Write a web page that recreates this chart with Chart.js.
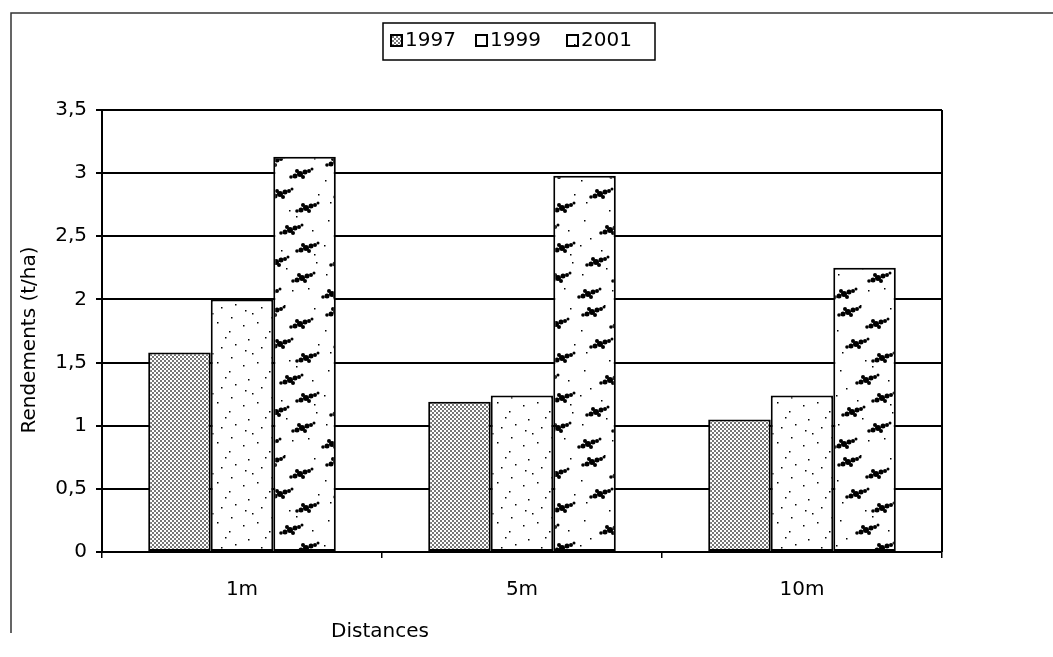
<!DOCTYPE html>
<html>
<head>
<meta charset="utf-8">
<script src="https://cdn.jsdelivr.net/npm/chart.js@4.4.0/dist/chart.umd.min.js"></script>
<style>
  html, body { margin: 0; padding: 0; background: #fff; }
  canvas { display: block; }
</style>
</head>
<body>
<canvas id="yieldChart" width="1053" height="657"></canvas>
<script>
const categories = ["1m", "5m", "10m"];
const years = ["1997", "1999", "2001"];
const values1997 = [1.58, 1.19, 1.05];
const values1999 = [2.0, 1.24, 1.24];
const values2001 = [3.13, 2.98, 2.25];
const yTicks = [0, 0.5, 1, 1.5, 2, 2.5, 3, 3.5];

const FONT = "'DejaVu Sans', 'Liberation Sans', Arial, sans-serif";

// motifs façon Excel scanné
function makePattern(w, h, draw) {
  const c = document.createElement("canvas");
  c.width = w; c.height = h;
  const g = c.getContext("2d");
  g.fillStyle = "#fff";
  g.fillRect(0, 0, w, h);
  g.fillStyle = "#000";
  draw(g);
  return c.getContext("2d").createPattern(c, "repeat");
}

const ctx = document.getElementById("yieldChart").getContext("2d");

const dotted = makePattern(4, 4, g => {
  g.fillStyle = "#777";
  g.fillRect(0, 0, 2, 2);
  g.fillRect(2, 2, 2, 2);
});
const sparse = makePattern(40, 40, g => {
  [[3,5],[17,2],[29,11],[8,19],[35,24],[21,27],[12,33],[31,37],[25,17],[5,30]]
    .forEach(p => g.fillRect(p[0], p[1], 1.5, 1.5));
});
const blobs = makePattern(64, 150, g => {
  // taches irrégulières : cercles qui se chevauchent
  const clusters = [[16,12],[44,24],[24,44],[50,58],[34,80],[50,98],[20,112],[46,128],[12,144]];
  const offs = [[0,0,3],[5,-2,2.5],[-5,2,2.5],[9,-3,2],[-9,3,1.8],[3,3,2],[-3,-3,2],[12,-5,1.5]];
  clusters.forEach(cl => offs.forEach(o => {
    g.beginPath();
    g.arc(cl[0] + o[0], cl[1] + o[1], o[2], 0, Math.PI * 2);
    g.fill();
  }));
  [[5,30],[58,8],[33,60],[8,70],[56,80],[25,100],[60,112],[36,140],[4,95],[52,138],
   [28,5],[10,52],[40,66],[14,88],[58,104],[30,118],[6,124],[62,44]]
    .forEach(p => g.fillRect(p[0], p[1], 1.5, 1.5));
});
const fills = [dotted, sparse, blobs];

// cadre, légende et titres des axes
const decorations = {
  id: "decorations",
  afterDraw(chart) {
    const c = chart.ctx;
    const a = chart.chartArea;
    c.save();
    c.strokeStyle = "#000";
    c.lineWidth = 2;
    c.beginPath();
    c.moveTo(a.right, a.top);
    c.lineTo(a.right, a.bottom);
    c.stroke();

    c.strokeStyle = "#333";
    c.lineWidth = 1.5;
    c.beginPath();
    c.moveTo(1053, 13);
    c.lineTo(11, 13);
    c.lineTo(11, 633);
    c.stroke();

    // légende
    c.lineWidth = 1.5;
    c.strokeStyle = "#000";
    c.strokeRect(383, 23, 272, 37);
    c.font = "20px " + FONT;
    c.textBaseline = "middle";
    c.textAlign = "left";
    const xs = [391, 476, 567];
    chart.data.datasets.forEach((ds, i) => {
      c.fillStyle = ds.backgroundColor;
      c.fillRect(xs[i], 35, 11, 11);
      c.lineWidth = 2;
      c.strokeRect(xs[i], 35, 11, 11);
      c.fillStyle = "#000";
      c.fillText(ds.label, xs[i] + 14, 41);
    });

    c.textAlign = "center";
    c.fillText("Distances", 380, 632);
    c.translate(30, 340);
    c.rotate(-Math.PI / 2);
    c.fillText("Rendements (t/ha)", 0, 0);
    c.restore();
  }
};

new Chart(ctx, {
  type: "bar",
  data: {
    labels: categories,
    datasets: [values1997, values1999, values2001].map((vals, i) => ({
      label: years[i],
      data: vals,
      backgroundColor: fills[i],
      borderColor: "#000",
      borderWidth: 2,
      borderSkipped: false,
      categoryPercentage: 0.67,
      barPercentage: 1.0
    }))
  },
  options: {
    responsive: false,
    animation: false,
    layout: { padding: { top: 110, right: 111, left: 0, bottom: 0 } },
    plugins: {
      legend: { display: false },
      tooltip: { enabled: false }
    },
    scales: {
      x: {
        afterFit: s => { s.height = 105; },
        border: { color: "#000", width: 2 },
        grid: { drawOnChartArea: false, drawTicks: true, tickLength: 6, offset: true, color: "#000", lineWidth: 1.5 },
        ticks: { color: "#000", font: { family: FONT, size: 20 }, padding: 20 }
      },
      y: {
        min: 0,
        max: 3.5,
        afterFit: s => { s.width = 102; },
        afterBuildTicks: s => { s.ticks = yTicks.map(v => ({ value: v })); },
        border: { color: "#000", width: 2 },
        grid: { color: "#000", lineWidth: 2, tickLength: 6 },
        ticks: {
          color: "#000",
          font: { family: FONT, size: 20 },
          padding: 9,
          callback: v => String(v).replace(".", ",")
        }
      }
    }
  },
  plugins: [decorations]
});
</script>
</body>
</html>
